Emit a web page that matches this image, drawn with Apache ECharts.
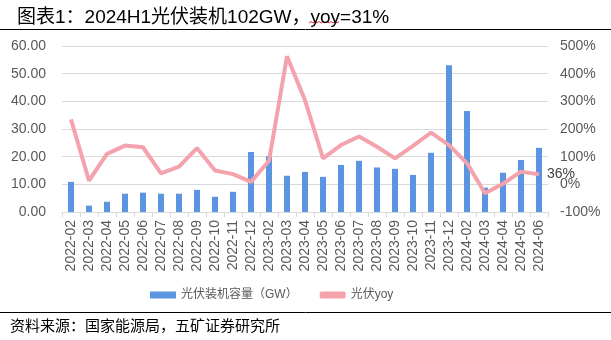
<!DOCTYPE html>
<html><head><meta charset="utf-8">
<script src="https://cdn.jsdelivr.net/npm/echarts@6/dist/echarts.min.js"></script>
<style>html,body{margin:0;padding:0;background:#fff}#c{width:611px;height:340px}</style>
</head><body><div id="c"></div>
<script>
const categories = ['2022-02','2022-03','2022-04','2022-05','2022-06','2022-07','2022-08','2022-09','2022-10','2022-11','2022-12','2023-02','2023-03','2023-04','2023-05','2023-06','2023-07','2023-08','2023-09','2023-10','2023-11','2023-12','2024-02','2024-03','2024-04','2024-05','2024-06'];
const capacityGW = [10.9,2.3,3.7,6.6,7.0,6.6,6.6,8.0,5.5,7.3,21.7,20.2,13.1,14.5,12.7,17.0,18.5,16.1,15.6,13.4,21.4,53.0,36.5,8.8,14.2,18.8,23.2];
const yoyPct = [235,13,110,140,134,40,64,131,50,37,9,85,463,304,94,142,173,136,94,139,187,142,76,-32,2,46,36];
const leftTicks = [0,10,20,30,40,50,60];
const rightTicks = [-100,0,100,200,300,400,500];

const chart = echarts.init(document.getElementById('c'), null, {renderer:'canvas'});
const font = 'Liberation Sans, Arial, Noto Sans CJK SC, sans-serif';
chart.setOption({
  animation:false,
  textStyle:{fontFamily:font},
  title:{text:'图表1：2024H1光伏装机102GW，yoy=31%', left:12, top:3,
    textStyle:{fontSize:19, fontWeight:'normal', color:'#000', fontFamily:font}},
  grid:{left:62, right:63, top:46, bottom:128},
  legend:{bottom:34, left:145, itemGap:22, itemWidth:26, itemHeight:7,
    textStyle:{color:'#595959', fontSize:12, fontFamily:font},
    data:[{name:'光伏装机容量（GW）', icon:'rect'},{name:'光伏yoy', icon:'roundRect'}]},
  xAxis:{type:'category', data:categories,
    axisLine:{lineStyle:{color:'#D9D9D9'}},
    axisTick:{show:true, alignWithLabel:false, length:5, lineStyle:{color:'#D9D9D9'}},
    axisLabel:{rotate:90, color:'#595959', fontSize:14, interval:0, margin:8, fontFamily:font}},
  yAxis:[
    {type:'value', min:leftTicks[0], max:leftTicks[leftTicks.length-1], interval:10,
     axisLabel:{color:'#595959', fontSize:14, formatter:v=>v.toFixed(2), margin:16, fontFamily:font},
     splitLine:{lineStyle:{color:'#D9D9D9'}}, axisLine:{show:false}, axisTick:{show:false}},
    {type:'value', min:rightTicks[0], max:rightTicks[rightTicks.length-1], interval:100,
     axisLabel:{color:'#595959', fontSize:14, formatter:v=>v+'%', margin:12, fontFamily:font},
     splitLine:{show:false}, axisLine:{show:false}, axisTick:{show:false}}
  ],
  series:[
    {name:'光伏装机容量（GW）', type:'bar', data:capacityGW, barWidth:6,
     itemStyle:{color:'#5B94E1'}},
    {name:'光伏yoy', type:'line', yAxisIndex:1, data:yoyPct,
     symbol:'none', lineStyle:{color:'#F4A2AC', width:4}, itemStyle:{color:'#F4A2AC'}, z:3,
     endLabel:{show:true, distance:8, formatter:p=>p.value+'%', color:'#404040', fontSize:14, fontFamily:font}}
  ],
  graphic:[
    {type:'line', shape:{x1:0,y1:29.5,x2:611,y2:29.5}, style:{stroke:'#000', lineWidth:1}},
    {type:'line', shape:{x1:0,y1:312.5,x2:611,y2:312.5}, style:{stroke:'#000', lineWidth:1}},
    {type:'polyline', shape:{points:[[309,23],[311,21.5],[313,23],[315,21.5],[317,23],[319,21.5],[321,23],[323,21.5],[325,23],[327,21.5],[329,23],[331,21.5],[333,23],[335,21.5],[337,23],[339,21.5]]},
     style:{stroke:'#E03030', lineWidth:1, fill:null}},
    {type:'text', left:10, top:318, style:{text:'资料来源：国家能源局，五矿证券研究所', fontSize:15, fill:'#000', fontFamily:'Noto Sans CJK SC, sans-serif'}}
  ]
});
</script></body></html>
